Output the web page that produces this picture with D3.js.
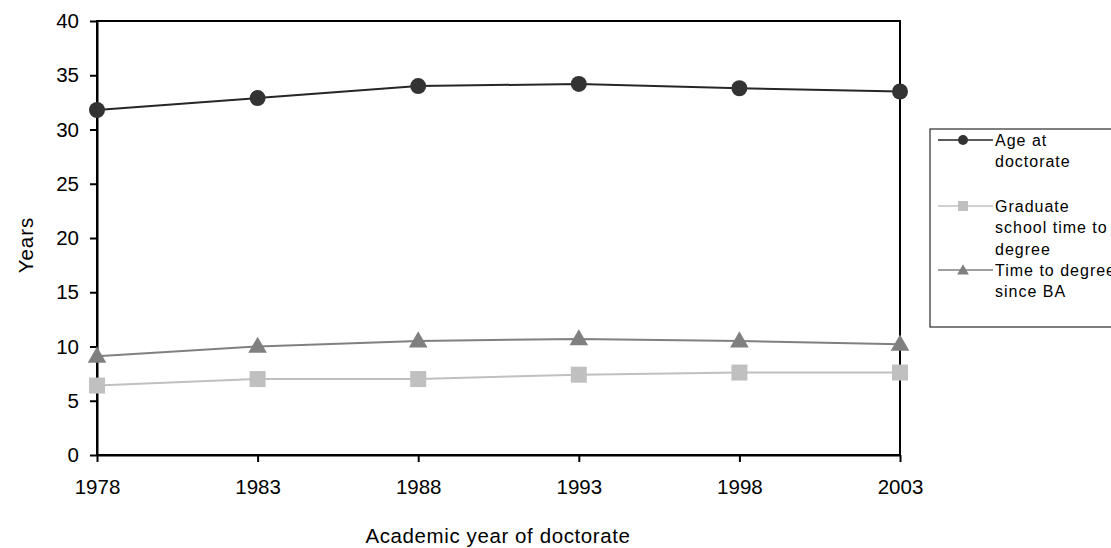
<!DOCTYPE html>
<html>
<head>
<meta charset="utf-8">
<script src="https://cdn.jsdelivr.net/npm/d3@7"></script>
<style>
  html, body { margin: 0; padding: 0; background: #fff; overflow: hidden; }
  svg { display: block; font-family: "Liberation Sans", Arial, sans-serif; }
</style>
</head>
<body>
<svg id="chart" width="1111" height="548"></svg>
<script>
// Academic years of doctorate
const years = [1978, 1983, 1988, 1993, 1998, 2003];
// Series values (years)
const ageAtDoctorate = [31.8, 32.9, 34.0, 34.2, 33.8, 33.5];
const gradSchoolTime = [6.4, 7.0, 7.0, 7.4, 7.6, 7.6];
const timeSinceBA = [9.1, 10.0, 10.5, 10.7, 10.5, 10.2];
const yTicks = [0, 5, 10, 15, 20, 25, 30, 35, 40];

const series = [
  { name: ["Age at", "doctorate"], values: ageAtDoctorate, line: "#262626", fill: "#333333", shape: "circle" },
  { name: ["Graduate", "school time to", "degree"], values: gradSchoolTime, line: "#c0c0c0", fill: "#c0c0c0", shape: "square" },
  { name: ["Time to degree", "since BA"], values: timeSinceBA, line: "#808080", fill: "#808080", shape: "triangle" }
];

const svg = d3.select("#chart");
const margin = { left: 97, right: 900, top: 21, bottom: 455 };

const x = d3.scalePoint().domain(years).range([margin.left, margin.right]);
const y = d3.scaleLinear().domain([0, 40]).range([margin.bottom, margin.top]);

const labelSize = "20.5px";

// Frame around plot area
svg.append("rect")
  .attr("x", margin.left).attr("y", margin.top)
  .attr("width", margin.right - margin.left).attr("height", margin.bottom - margin.top)
  .attr("fill", "none").attr("stroke", "#000").attr("stroke-width", 2);

// Axes
const yAxis = svg.append("g")
  .attr("transform", `translate(${margin.left},0)`)
  .call(d3.axisLeft(y).tickValues(yTicks).tickSize(7).tickPadding(11).tickSizeOuter(0));
const xAxis = svg.append("g")
  .attr("transform", `translate(0,${margin.bottom})`)
  .call(d3.axisBottom(x).tickSize(7).tickPadding(17).tickSizeOuter(0).tickFormat(d3.format("d")));

[yAxis, xAxis].forEach(g => {
  g.select(".domain").attr("stroke", "#000").attr("stroke-width", 2);
  g.selectAll(".tick line").attr("stroke", "#000").attr("stroke-width", 2);
  g.selectAll(".tick text").attr("fill", "#000")
    .style("font-size", labelSize)
    .style("font-family", "'Liberation Sans', Arial, sans-serif");
});

// Axis titles
svg.append("text")
  .attr("transform", `translate(33,245) rotate(-90)`)
  .attr("text-anchor", "middle")
  .style("font-size", labelSize)
  .style("letter-spacing", "1px")
  .text("Years");
svg.append("text")
  .attr("x", 498).attr("y", 543)
  .attr("text-anchor", "middle")
  .style("font-size", labelSize)
  .style("letter-spacing", "0.6px")
  .text("Academic year of doctorate");

// Marker symbol generators
const symbolFor = {
  circle: d3.symbol().type(d3.symbolCircle).size(Math.PI * 8 * 8),
  square: d3.symbol().type(d3.symbolSquare).size(16 * 16),
  triangle: d3.symbol().type(d3.symbolTriangle).size(150)
};

const line = d3.line().x((d, i) => x(years[i])).y(d => y(d));

series.forEach(s => {
  svg.append("path")
    .datum(s.values)
    .attr("fill", "none")
    .attr("stroke", s.line)
    .attr("stroke-width", 2)
    .attr("d", line);
  svg.selectAll(null)
    .data(s.values)
    .enter().append("path")
    .attr("transform", (d, i) => `translate(${x(years[i])},${y(d) + (s.shape === "triangle" ? 1 : 0)})`)
    .attr("d", symbolFor[s.shape]())
    .attr("fill", s.fill);
});

// Legend
const legend = svg.append("g");
legend.append("rect")
  .attr("x", 930).attr("y", 129).attr("width", 200).attr("height", 198)
  .attr("fill", "#fff").attr("stroke", "#000").attr("stroke-width", 1);

const legendRows = [140, 206, 270];
series.forEach((s, k) => {
  const cy = legendRows[k];
  legend.append("line")
    .attr("x1", 938).attr("x2", 993).attr("y1", cy).attr("y2", cy)
    .attr("stroke", s.line).attr("stroke-width", 1.5);
  const sym = {
    circle: d3.symbol().type(d3.symbolCircle).size(Math.PI * 5 * 5),
    square: d3.symbol().type(d3.symbolSquare).size(10 * 10),
    triangle: d3.symbol().type(d3.symbolTriangle).size(60)
  }[s.shape];
  legend.append("path")
    .attr("transform", `translate(963,${cy + (s.shape === "triangle" ? 1 : 0)})`)
    .attr("d", sym())
    .attr("fill", s.fill);
  const t = legend.append("text")
    .attr("x", 995).attr("y", cy)
    .style("font-size", "16px")
    .style("letter-spacing", "1px")
    .attr("fill", "#000");
  s.name.forEach((ln, j) => {
    t.append("tspan")
      .attr("x", 995)
      .attr("y", cy + j * 21.5)
      .attr("dy", "0.35em")
      .text(ln);
  });
});
</script>
</body>
</html>
